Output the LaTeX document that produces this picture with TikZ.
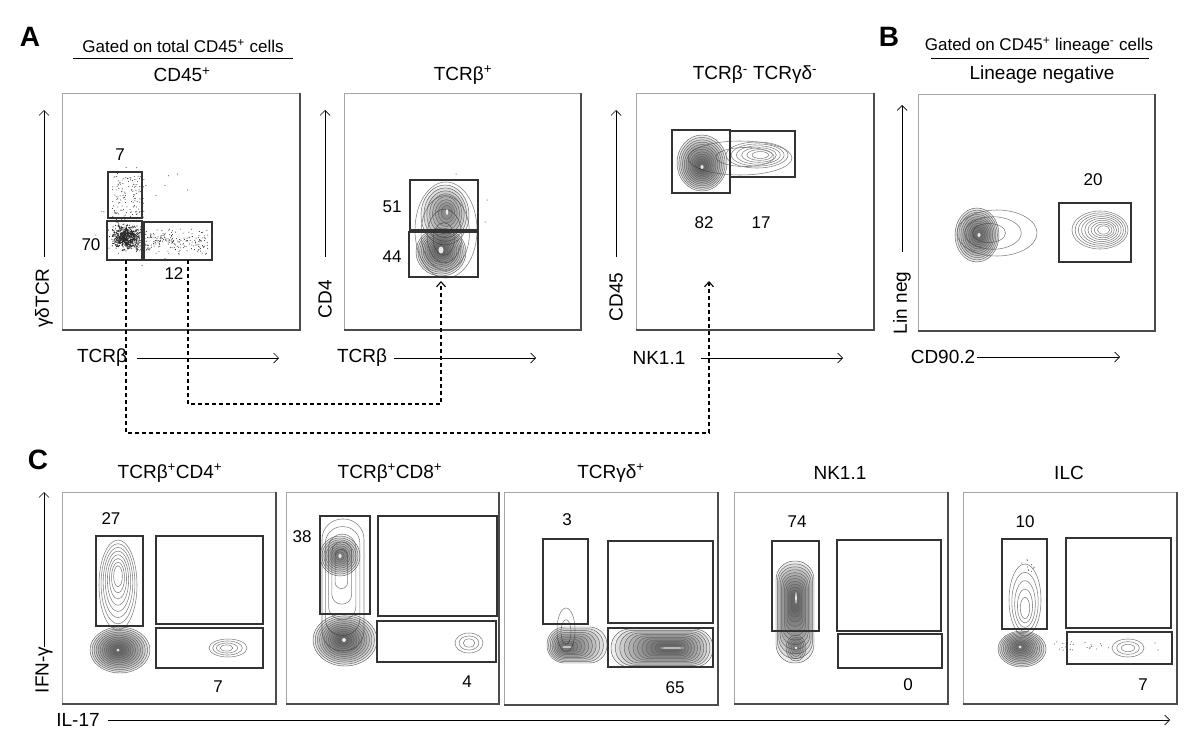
\documentclass[tikz,border=0pt]{standalone}
\usepackage{fontspec}
\setmainfont{Liberation Sans}
\usetikzlibrary{arrows.meta,calc}

% nested elliptic contour rings: cx cy rx ry n dx dy style
\newcommand\ctr[8]{%
  \foreach \k in {1,...,#5}{%
    \pgfmathsetmacro\ctrt{(\k-1)/#5}%
    \pgfmathsetmacro\ctrs{1-0.88*\ctrt}%
    \draw[#8] ({#1+(#6)*\ctrt},{#2+(#7)*\ctrt}) ellipse [x radius={#3*\ctrs}, y radius={#4*\ctrs}];
  }}
% nested stadium-shaped contour rings: cx cy rx ry n dx dy style
\newcommand\ctrr[8]{%
  \foreach \k in {1,...,#5}{%
    \pgfmathsetmacro\ctrt{(\k-1)/#5}%
    \pgfmathsetmacro\ctrs{1-0.88*\ctrt}%
    \pgfmathsetmacro\ctrc{0.97*min(#3,#4)*\ctrs}%
    \pgfmathsetmacro\ctrx{#1+(#6)*\ctrt}%
    \pgfmathsetmacro\ctry{#2+(#7)*\ctrt}%
    \draw[#8, rounded corners=\ctrc pt] ({\ctrx-#3*\ctrs},{\ctry-#4*\ctrs}) rectangle ({\ctrx+#3*\ctrs},{\ctry+#4*\ctrs});
  }}
\newcommand\core[4]{\fill[white, fill opacity=0.85] (#1,#2) ellipse [x radius=#3, y radius=#4];}
% rectangle node: style name x0 y0 x1 y1
\newcommand\gbox[6]{\node[#1, minimum width={(#5-#3)*1pt}, minimum height={(#6-#4)*1pt}] (#2) at ({(#3+#5)/2},{(#4+#6)/2}) {};}
\newcommand\panel[5]{\gbox{frame}{#1}{#2}{#3}{#4}{#5}\draw[shadowline] (#1.north east) -- (#1.south east) -- (#1.south west);}

\begin{document}
\begin{tikzpicture}[x=1pt,y=-1pt,
  frame/.style={draw=black!35, line width=0.9pt, inner sep=0pt, outer sep=0pt},
  shadowline/.style={draw=black!70, line width=1.1pt},
  gate/.style={draw=black!80, line width=1.1pt, inner sep=0pt, outer sep=0pt},
  cd/.style={draw=black!62, line width=0.45pt, fill=black, fill opacity=0.07},
  cl/.style={draw=black!50, line width=0.55pt},
  dotc/.style={fill=black!85},
  ttl/.style={font=\fontsize{19}{22}\selectfont, inner sep=0pt},
  sub/.style={font=\fontsize{17}{20}\selectfont, inner sep=0pt},
  num/.style={font=\fontsize{17}{20}\selectfont, inner sep=0pt},
  axl/.style={font=\fontsize{19}{22}\selectfont, inner sep=0pt},
  letter/.style={font=\fontsize{28}{30}\selectfont\bfseries, inner sep=0pt},
  ax/.style={line width=0.7pt, -{Straight Barb[length=5pt,width=10pt]}},
  flow/.style={dash pattern=on 4pt off 3pt, line width=1.1pt, -{Straight Barb[length=5pt,width=9pt]}},
  uline/.style={line width=0.9pt}
]
\useasboundingbox[fill=white] (0,0) rectangle (1200,747);

% ---------------- panel frames ----------------
\panel{pA1}{62}{93}{300}{330}
\panel{pA2}{344}{93}{581}{330}
\panel{pA3}{636}{93}{874}{330}
\panel{pB}{918}{94}{1155}{331}
\panel{pC1}{62}{492}{276}{704}
\panel{pC2}{286}{492}{499}{704}
\panel{pC3}{504}{492}{718}{705}
\panel{pC4}{734}{492}{948}{704}
\panel{pC5}{963}{492}{1177}{704}

% ---------------- A1 scatter ----------------
\pgfmathsetseed{7}
\foreach \i in {1,...,650}{%
  \pgfmathsetmacro\dotx{126+6.5*(rand+rand+rand)}%
  \pgfmathsetmacro\doty{237+5.5*(rand+rand+rand)}%
  \fill[dotc] (\dotx,\doty) circle[radius=0.6];}
\foreach \i in {1,...,130}{%
  \pgfmathsetmacro\dotx{128+16*rand}%
  \pgfmathsetmacro\doty{198+22*rand}%
  \fill[dotc] (\dotx,\doty) circle[radius=0.5];}
\foreach \i in {1,...,260}{%
  \pgfmathsetmacro\dotx{136+72*pow(rnd,1.5)}%
  \pgfmathsetmacro\doty{241+7*(rand+rand)}%
  \fill[dotc] (\dotx,\doty) circle[radius=0.5];}
\foreach \i in {1,...,30}{%
  \pgfmathsetmacro\dotx{95+110*rnd}%
  \pgfmathsetmacro\doty{165+115*rnd}%
  \fill[dotc] (\dotx,\doty) circle[radius=0.5];}

% ---------------- contours ----------------
% A2
\ctr{446}{230}{31}{48}{4}{-3}{12}{cl}
\ctr{445}{215}{24}{30}{8}{2}{-3}{cd}
\ctr{441}{252}{25}{24}{12}{0}{-2}{cd}
\core{447}{212}{1.2}{3}\core{441}{250}{2.5}{3.5}
\fill[dotc] (456,174) circle[radius=0.5] (487,200) circle[radius=0.5] (485,222) circle[radius=0.5];
% A3
\ctr{740}{158}{52}{17}{2}{10}{-2}{cl}
\ctr{757}{155}{31}{13}{6}{4}{0}{cl}
\ctr{702}{163}{25}{28}{12}{0}{4}{cd}
\core{702}{167}{1.5}{2}
% B
\ctr{997}{233}{40}{23}{3}{-12}{0}{cl}
\ctr{977}{235}{22}{27}{11}{2}{0}{cd}
\core{979}{235}{1.5}{2}
\ctr{1100}{230}{28}{19}{9}{4}{0}{cl}
% C1
\ctr{118}{585}{19}{45}{8}{0}{-10}{cl}
\ctr{120}{650}{30}{23}{12}{-2}{0}{cd}
\core{118}{650}{1.5}{1.5}
\ctr{228}{648}{19}{9}{4}{-2}{0}{cl}
% C2
\ctrr{343}{585}{21}{66}{5}{-2}{-20}{cl}
\ctr{340}{556}{20}{20}{9}{0}{0}{cd}
\core{340}{556}{1.5}{2}
\ctr{345}{640}{32}{26}{12}{-2}{0}{cd}
\core{344}{640}{2}{2}
\ctr{469}{643}{14}{10}{3}{0}{0}{cl}
% C3
\ctr{566}{630}{9}{22}{2}{0}{4}{cl}
\ctrr{577}{645}{30}{18}{10}{-10}{2}{cd}
\ctrr{662}{648}{51}{19}{12}{8}{0}{cd}
\core{672}{648}{12}{0.7}\core{567}{647}{5}{0.7}
% C4
\ctrr{795}{612}{19}{51}{12}{0}{-10}{cd}
\ctr{796}{648}{10}{13}{5}{0}{0}{cd}
\core{796}{598}{0.8}{6}\core{796}{648}{1.2}{1.5}
% C5
\ctr{1025}{600}{16}{36}{5}{0}{10}{cl}
\ctr{1022}{649}{24}{18}{11}{-2}{-2}{cd}
\core{1020}{647}{1.5}{1.5}
\ctr{1128}{648}{16}{9}{3}{0}{0}{cl}
\pgfmathsetseed{11}
\foreach \i in {1,...,22}{%
  \pgfmathsetmacro\dotx{1052+60*rnd}%
  \pgfmathsetmacro\doty{646+5*rand}%
  \fill[black!60] (\dotx,\doty) circle[radius=0.6];}
\foreach \i in {1,...,10}{%
  \pgfmathsetmacro\dotx{1025+10*rand}%
  \pgfmathsetmacro\doty{566+8*rand}%
  \fill[black!60] (\dotx,\doty) circle[radius=0.6];}
\fill[black!60] (1155,643) circle[radius=0.6] (1158,650) circle[radius=0.6];

% ---------------- gates ----------------
\gbox{gate}{g7}{108}{172}{142}{218}
\gbox{gate}{g70}{107}{221}{142}{260}
\gbox{gate}{g12}{144}{222}{212}{260}
\gbox{gate}{g51}{410}{180}{478}{230}
\gbox{gate}{g44}{409}{232}{478}{277}
\gbox{gate}{g82}{672}{130}{730}{193}
\gbox{gate}{g17}{730}{131}{795}{177}
\gbox{gate}{g20}{1059}{203}{1131}{262}
\gbox{gate}{gc1a}{96}{536}{143}{626}
\gbox{gate}{gc1b}{156}{536}{263}{624}
\gbox{gate}{gc1c}{156}{628}{263}{668}
\gbox{gate}{gc2a}{320}{516}{370}{614}
\gbox{gate}{gc2b}{378}{516}{497}{616}
\gbox{gate}{gc2c}{377}{621}{496}{662}
\gbox{gate}{gc3a}{543}{539}{588}{624}
\gbox{gate}{gc3b}{608}{541}{713}{623}
\gbox{gate}{gc3c}{608}{628}{713}{667}
\gbox{gate}{gc4a}{772}{541}{819}{631}
\gbox{gate}{gc4b}{837}{540}{941}{631}
\gbox{gate}{gc4c}{838}{634}{942}{668}
\gbox{gate}{gc5a}{1002}{539}{1047}{629}
\gbox{gate}{gc5b}{1066}{538}{1171}{628}
\gbox{gate}{gc5c}{1067}{632}{1172}{664}

% ---------------- numbers ----------------
\node[num] (n7) at (120,155) {7};
\node[num] (n70) at (91,245) {70};
\node[num] (n12) at (174,274) {12};
\node[num] (n51) at (392,207) {51};
\node[num] (n44) at (392,257) {44};
\node[num] (n82) at (704,223) {82};
\node[num] (n17) at (761,223) {17};
\node[num] (n20) at (1093,180) {20};
\node[num] (n27) at (111,519) {27};
\node[num] (nc17) at (218,687) {7};
\node[num] (n38) at (302,537) {38};
\node[num] (n4) at (467,682) {4};
\node[num] (n3) at (567,520) {3};
\node[num] (n65) at (675,688) {65};
\node[num] (n74) at (797,522) {74};
\node[num] (n0) at (908,685) {0};
\node[num] (n10) at (1025,522) {10};
\node[num] (nc57) at (1143,685) {7};

% ---------------- letters, headers, titles ----------------
\node[letter] (LA) at (30,37) {A};
\node[letter] (LB) at (889,37) {B};
\node[letter] (LC) at (38,460) {C};
\node[sub] (hA) at (183,46) {Gated on total CD45\textsuperscript{+} cells};
\coordinate (ulA1) at (73,58); \coordinate (ulA2) at (293,58);
\draw[uline] (ulA1) -- (ulA2);
\node[sub] (hB) at (1039,46) {Gated on CD45\textsuperscript{+} lineage\textsuperscript{-} cells};
\coordinate (ulB1) at (931,58); \coordinate (ulB2) at (1149,58);
\draw[uline] (ulB1) -- (ulB2);

\node[ttl] (tA1) at (182,75) {CD45\textsuperscript{+}};
\node[ttl] (tA2) at (463,75) {TCRβ\textsuperscript{+}};
\node[ttl] (tA3) at (755,75) {TCRβ\textsuperscript{-} TCRγδ\textsuperscript{-}};
\node[ttl] (tB) at (1042,75) {Lineage negative};
\node[ttl] (tC1) at (170,473) {TCRβ\textsuperscript{+}CD4\textsuperscript{+}};
\node[ttl] (tC2) at (390,473) {TCRβ\textsuperscript{+}CD8\textsuperscript{+}};
\node[ttl] (tC3) at (611,473) {TCRγδ\textsuperscript{+}};
\node[ttl] (tC4) at (840,473) {NK1.1};
\node[ttl] (tC5) at (1069,473) {ILC};

% ---------------- axes ----------------
\node[axl, rotate=90] (yA1) at (44,298) {γδTCR};
\coordinate (yA1s) at (44,257); \coordinate (yA1e) at (44,110);
\draw[ax] (yA1s) -- (yA1e);
\node[axl] (xA1) at (102,358) {TCRβ};
\coordinate (xA1s) at (137,358); \coordinate (xA1e) at (279,358);
\draw[ax] (xA1s) -- (xA1e);

\node[axl, rotate=90] (yA2) at (325,299) {CD4};
\coordinate (yA2s) at (325,257); \coordinate (yA2e) at (325,110);
\draw[ax] (yA2s) -- (yA2e);
\node[axl] (xA2) at (362,358) {TCRβ};
\coordinate (xA2s) at (394,358); \coordinate (xA2e) at (536,358);
\draw[ax] (xA2s) -- (xA2e);

\node[axl, rotate=90] (yA3) at (616,297) {CD45};
\coordinate (yA3s) at (616,257); \coordinate (yA3e) at (616,110);
\draw[ax] (yA3s) -- (yA3e);
\node[axl] (xA3) at (659,358) {NK1.1};
\coordinate (xA3s) at (701,358); \coordinate (xA3e) at (843,358);
\draw[ax] (xA3s) -- (xA3e);

\node[axl, rotate=90] (yB) at (902,303) {Lin neg};
\coordinate (yBs) at (902,252); \coordinate (yBe) at (902,105);
\draw[ax] (yBs) -- (yBe);
\node[axl] (xB) at (943,357) {CD90.2};
\coordinate (xBs) at (977,357); \coordinate (xBe) at (1120,357);
\draw[ax] (xBs) -- (xBe);

\node[axl, rotate=90] (yC) at (44,670) {IFN-γ};
\coordinate (yCs) at (44,647); \coordinate (yCe) at (44,492);
\draw[ax] (yCs) -- (yCe);
\node[axl] (xC) at (78,720) {IL-17};
\coordinate (xCs) at (108,720); \coordinate (xCe) at (1170,720);
\draw[ax] (xCs) -- (xCe);

% ---------------- dashed gating connectors ----------------
\coordinate (s12) at (188,260); \coordinate (t2) at (441,281);
\draw[flow] (s12) -- ++(0,144) -| (t2);
\coordinate (s70) at (126,260); \coordinate (t3) at (709,281);
\draw[flow] (s70) -- ++(0,173) -| (t3);
\end{tikzpicture}
\end{document}
